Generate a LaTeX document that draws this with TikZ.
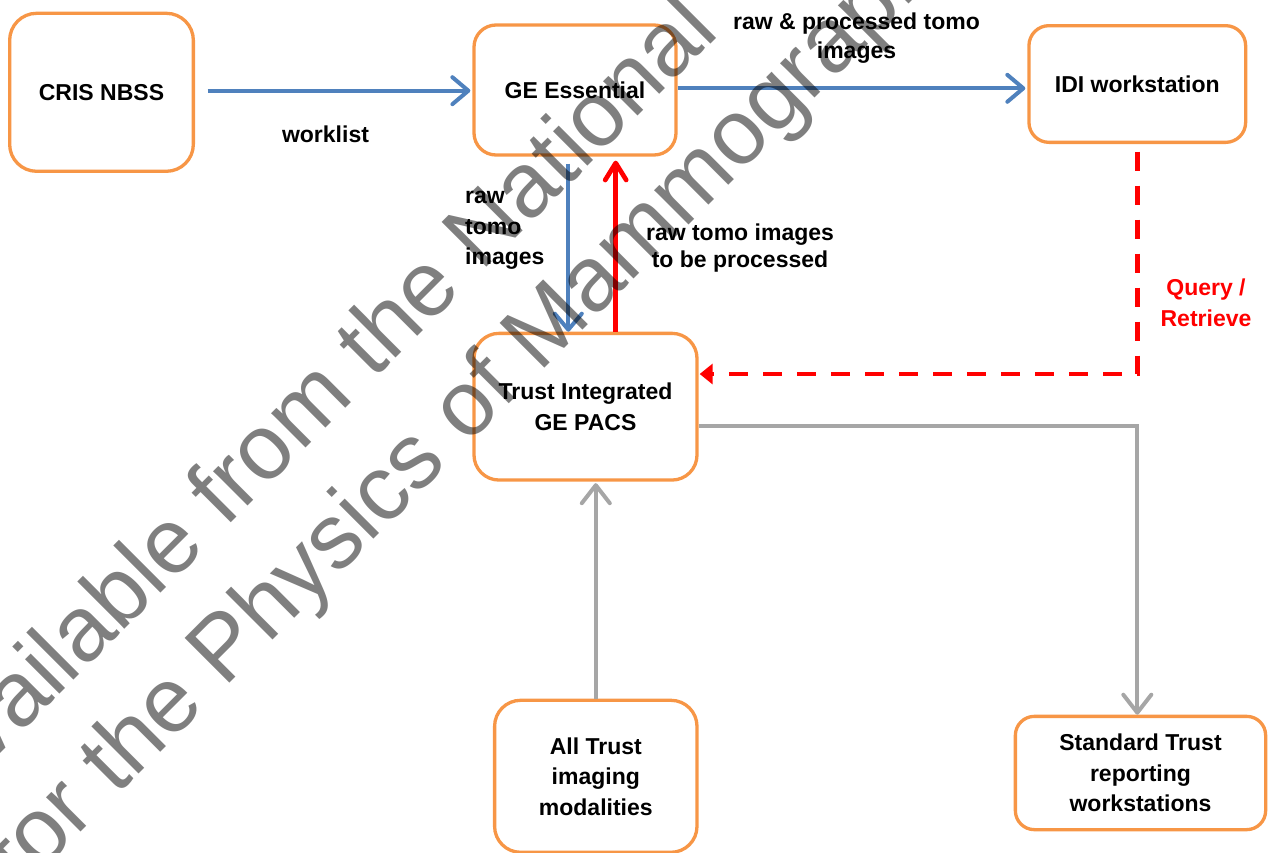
\documentclass[tikz,border=0pt]{standalone}
\usepackage{fontspec}
\setmainfont{Liberation Sans}
\usetikzlibrary{arrows.meta,calc}
\definecolor{boxorange}{HTML}{F79646}
\definecolor{flowblue}{HTML}{4F81BD}
\definecolor{flowgray}{HTML}{A6A6A6}
\definecolor{flowred}{HTML}{FF0000}
\begin{document}
\begin{tikzpicture}[x=1pt,y=-1pt,
  box/.style={draw=boxorange, line width=3.3pt, fill=white, align=center,
    inner sep=0pt, font=\bfseries\fontsize{23}{30.5}\selectfont},
  lbl/.style={inner sep=0pt, font=\bfseries\fontsize{23}{30.5}\selectfont},
  bluearrow/.style={draw=flowblue, line width=4pt,
    -{Straight Barb[length=16pt,width=27pt,round]}},
  redarrow/.style={draw=flowred, line width=4.7pt,
    -{Straight Barb[length=17pt,width=21pt,round]}},
  reddash/.style={draw=flowred, line width=4.7pt, dash pattern=on 19pt off 15pt,
    -{Triangle[length=13pt,width=20pt]}},
  grayarrow/.style={draw=flowgray, line width=4pt,
    -{Straight Barb[length=18pt,width=28pt,round]}},
  wmark/.style={inner sep=0pt, text=black, text opacity=0.5,
    font=\fontsize{92}{92}\selectfont, rotate=45, anchor=base west}
]
\useasboundingbox (0,0) rectangle (1268,852);

% systems
\node[box, rounded corners=27pt, minimum width=183.7pt, minimum height=158pt]
  (cris) at (101.5,92.3) {CRIS NBSS};
\node[box, rounded corners=22pt, minimum width=202pt, minimum height=130pt]
  (ge) at (575,90) {GE Essential};
\node[box, rounded corners=20pt, minimum width=216.7pt, minimum height=116.7pt]
  (idi) at (1137.3,84) {IDI workstation};
\node[box, rounded corners=25pt, minimum width=223pt, minimum height=146.7pt]
  (pacs) at (585.5,406.7) {Trust Integrated\\GE PACS};
\node[box, rounded corners=26pt, minimum width=202.4pt, minimum height=152pt]
  (mods) at (595.8,776.3) {All Trust\\imaging\\modalities};
\node[box, rounded corners=19pt, minimum width=250.3pt, minimum height=113.3pt]
  (std) at (1140.5,773) {Standard Trust\\reporting\\workstations};

% data flows
\draw[bluearrow, shorten >=2pt] ($(cris.east |- 0,90.7)+(12.5,0)$) -- (ge.west |- 0,90.7);
\draw[bluearrow, shorten >=2pt] (ge.east |- 0,88.3) -- (idi.west |- 0,88.3);
\draw[bluearrow] ($(ge.south -| 568.3,0)+(0,7)$) -- (pacs.north -| 568.3,0);
\draw[redarrow, shorten >=4pt] (pacs.north -| 615.7,0) -- (ge.south -| 615.7,0);
\draw[reddash] ($(idi.south)+(0,7.7)$) |- ($(pacs.east |- 0,374)+(1,0)$);
\draw[grayarrow] (pacs.east |- 0,426) -| (std.north -| idi.south);
\draw[grayarrow, shorten >=1.5pt] (mods.north) -- (mods.north |- pacs.south);

% flow labels (base anchor sits on the last line)
\node[lbl, anchor=base] (wl) at (325.5,142.7) {worklist};
\node[lbl, align=center, anchor=base, font=\bfseries\fontsize{23}{29}\selectfont]
  (rp) at (856.5,58) {raw \& processed tomo\\images};
\node[lbl, align=left, anchor=base west, font=\bfseries\fontsize{23}{30.7}\selectfont]
  (rti) at (465,264.7) {raw\\tomo\\images};
\node[lbl, align=center, anchor=base, font=\bfseries\fontsize{23}{27}\selectfont]
  (tbp) at (740,267) {raw tomo images\\to be processed};
\node[lbl, align=center, anchor=base, text=flowred, font=\bfseries\fontsize{23}{31}\selectfont]
  (qr) at (1206,326) {Query /\\Retrieve};

% source notice across the sheet
\begin{scope}
  \clip (0,0) rectangle (1268,852);
  \node[wmark] (wm1) at (-55.7,809.8) {Available from the National};
  \node[wmark] (wm2) at (22.4,890.7) {for the Physics of Mammography};
\end{scope}
\end{tikzpicture}
\end{document}
